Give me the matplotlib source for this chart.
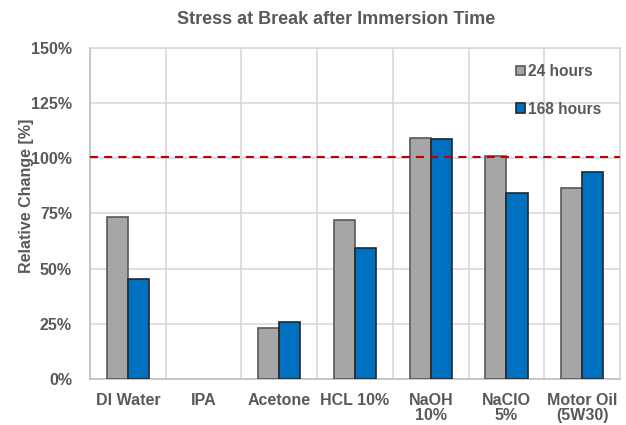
import numpy as np
import matplotlib
matplotlib.use("Agg")
import matplotlib.pyplot as plt
from matplotlib.ticker import FuncFormatter, FixedLocator

categories = ["DI Water", "IPA", "Acetone", "HCL 10%", "NaOH\n10%", "NaClO\n5%", "Motor Oil\n(5W30)"]
series_names = ["24 hours", "168 hours"]
values_24h = [73.4, np.nan, 22.9, 72.1, 109.4, 101.0, 86.4]
values_168h = [45.1, np.nan, 25.9, 59.4, 108.7, 84.5, 93.8]
reference_level = 100.6
y_ticks = [0, 25, 50, 75, 100, 125, 150]

plt.rcParams['font.family'] = ['Liberation Sans', 'DejaVu Sans']
text_col = "#595959"

fig = plt.figure(figsize=(6.26, 4.25), dpi=100)
ax = fig.add_axes([90/626, (425-379)/425, (620-90)/626, (379-48)/425])

x = np.arange(len(categories))
w = 0.28
ax.bar(x - w/2, values_24h, w, color="#A6A6A6", edgecolor="#595959", linewidth=1.2, zorder=3, label=series_names[0])
ax.bar(x + w/2, values_168h, w, color="#0070C0", edgecolor="#262626", linewidth=1.2, zorder=3, label=series_names[1])

ax.axhline(reference_level, color="#C00000", linestyle=(0, (3.9, 2.9)), linewidth=1.5, zorder=4)

ax.set_xlim(-0.5, len(categories) - 0.5)
ax.set_ylim(0, 150)
ax.yaxis.set_major_locator(FixedLocator(y_ticks))
ax.yaxis.set_major_formatter(FuncFormatter(lambda v, p: f"{v:.0f}%"))
ax.set_xticks(x)
ax.set_xticklabels(categories, linespacing=1.05)
ax.xaxis.set_minor_locator(FixedLocator(np.arange(-0.5, len(categories), 1.0)))

ax.grid(True, axis="y", which="major", color="#D9D9D9", linewidth=1.2, zorder=0)
ax.grid(True, axis="x", which="minor", color="#D9D9D9", linewidth=1.2, zorder=0)
ax.grid(False, axis="x", which="major")
ax.tick_params(axis="both", which="both", length=0)
ax.tick_params(axis="x", pad=10, labelsize=11.5, labelcolor=text_col)
ax.tick_params(axis="y", pad=13, labelsize=11.5, labelcolor=text_col)
for lab in ax.get_xticklabels() + ax.get_yticklabels():
    lab.set_fontweight("bold")
for s in ["top", "right"]:
    ax.spines[s].set_color("#D9D9D9")
    ax.spines[s].set_linewidth(1.2)
for s in ["left", "bottom"]:
    ax.spines[s].set_color("#BFBFBF")
    ax.spines[s].set_linewidth(1.2)

ax.set_ylabel("Relative Change [%]", fontsize=11.5, fontweight="bold", color=text_col)
ax.yaxis.set_label_coords((34-90)/530, (379-196)/331)
fig.text(336/626, 1 - 19/425, "Stress at Break after Immersion Time", ha="center", va="center",
         fontsize=13, fontweight="bold", color=text_col)

leg = ax.legend(loc="upper left", bbox_to_anchor=((516-90)/530, (379-64)/331), frameon=False,
                fontsize=11.2, handlelength=0.58, handleheight=0.58, handletextpad=0.2,
                labelspacing=1.45, borderaxespad=0, borderpad=0)
for t in leg.get_texts():
    t.set_fontweight("bold")
    t.set_color(text_col)

fig.savefig("out.png", dpi=100)
